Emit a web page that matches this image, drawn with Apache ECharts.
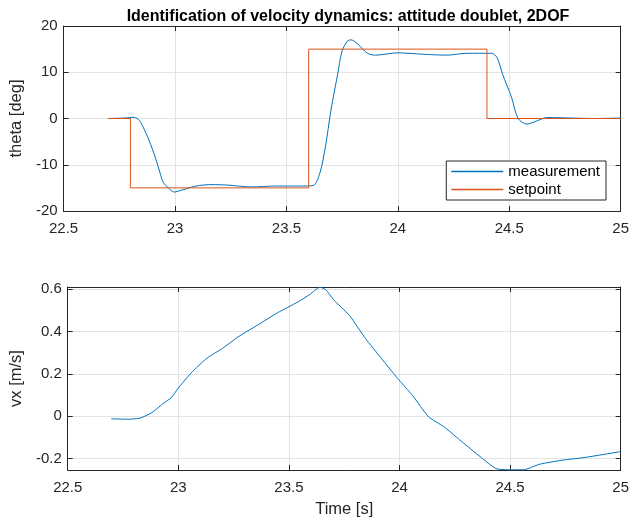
<!DOCTYPE html>
<html>
<head>
<meta charset="utf-8">
<title>Identification of velocity dynamics</title>
<script src="https://cdn.jsdelivr.net/npm/echarts@6/dist/echarts.min.js"></script>
</head>
<body style="margin:0px;">
<div id="main" style="width:632px;height:521px;"></div>
<script type="text/javascript">
// theta measurement [time, deg]
var thetaMeas = [
  [22.70, 0], [22.77, 0.1], [22.817, 0.25], [22.84, -0.4], [22.87, -3.2],
  [22.897, -6.4], [22.915, -8.9], [22.933, -11.8], [22.947, -13.8], [22.97, -15.0],
  [22.996, -15.9], [23.03, -15.5], [23.094, -14.6], [23.166, -14.3], [23.237, -14.4],
  [23.345, -14.8], [23.45, -14.6], [23.56, -14.6], [23.62, -14.5], [23.65, -11.8],
  [23.675, -6.1], [23.70, 1.8], [23.73, 9.6], [23.75, 14.6], [23.775, 16.8],
  [23.79, 17.0], [23.82, 16.1], [23.864, 14.1], [23.90, 13.7], [24.0, 14.2],
  [24.11, 13.9], [24.22, 13.7], [24.31, 14.1], [24.42, 14.1], [24.445, 13.2],
  [24.47, 9.6], [24.51, 4.6], [24.54, 0], [24.58, -1.2], [24.615, -0.7],
  [24.67, 0.2], [24.776, 0.1], [24.88, 0], [25.0, 0.1]
];
// setpoint steps [time, deg]
var thetaSet = [[22.7, 0], [22.8, -15], [23.6, 15], [24.4, 0], [25.0, 0]];
// vx [time, m/s]
var vx = [
  [22.697, -0.012], [22.77, -0.014], [22.826, -0.009], [22.88, 0.017], [22.93, 0.059],
  [22.97, 0.09], [22.996, 0.128], [23.058, 0.205], [23.13, 0.275], [23.20, 0.321],
  [23.27, 0.375], [23.36, 0.432], [23.45, 0.49], [23.54, 0.54], [23.595, 0.576],
  [23.64, 0.61], [23.667, 0.598], [23.70, 0.553], [23.774, 0.476], [23.846, 0.368],
  [23.917, 0.275], [23.989, 0.182], [24.06, 0.097], [24.132, -0.003], [24.20, -0.049],
  [24.29, -0.127], [24.38, -0.204], [24.436, -0.247], [24.49, -0.253], [24.56, -0.253],
  [24.633, -0.227], [24.74, -0.207], [24.83, -0.196], [24.92, -0.181], [25.0, -0.167]
];
var xTicks = [22.5, 25, 0.5];
var thetaTicks = [-20, 20, 10];
var vxRange = [-0.254, 0.611];

var ink = '#262626';
var font = 'Liberation Sans, Arial, sans-serif';
var nameStyle = { fontSize: 16.5, color: ink, fontFamily: font };

function xAx(grid, top, extra) {
  var a = {
    type: 'value', gridIndex: grid, min: xTicks[0], max: xTicks[1], interval: xTicks[2],
    position: top ? 'top' : 'bottom',
    axisLine: { show: true, onZero: false, lineStyle: { color: ink, width: 1 } },
    axisTick: { show: true, inside: true, length: 5, lineStyle: { color: ink } },
    axisLabel: { show: !top, color: ink, fontSize: 15, fontFamily: font, margin: 10 },
    splitLine: { show: !top, lineStyle: { color: '#e3e3e3' } }
  };
  for (var k in extra) a[k] = extra[k];
  return a;
}
function yAx(grid, right, mn, mx, iv, extra) {
  var a = {
    type: 'value', gridIndex: grid, min: mn, max: mx,
    position: right ? 'right' : 'left',
    axisLine: { show: true, onZero: false, lineStyle: { color: ink, width: 1 } },
    axisTick: { show: true, inside: true, length: 5, lineStyle: { color: ink } },
    axisLabel: { show: !right, color: ink, fontSize: 15, fontFamily: font, margin: 6,
                 showMinLabel: iv ? true : false, showMaxLabel: iv ? true : false },
    splitLine: { show: !right, lineStyle: { color: '#e3e3e3' } }
  };
  if (iv) a.interval = iv; else a.splitNumber = 5;
  for (var k in extra) a[k] = extra[k];
  return a;
}

var myChart = echarts.init(document.getElementById('main'));
myChart.setOption({
  animation: false,
  backgroundColor: '#fff',
  title: {
    text: 'Identification of velocity dynamics: attitude doublet, 2DOF',
    left: 343, top: 4, textAlign: 'center',
    textStyle: { fontSize: 16, fontWeight: 'bold', color: '#000', fontFamily: font }
  },
  legend: {
    data: ['measurement', 'setpoint'],
    orient: 'vertical', right: 26, top: 161,
    icon: 'rect', itemWidth: 52, itemHeight: 1.5, itemGap: 3,
    backgroundColor: '#fff', borderColor: ink, borderWidth: 1, borderRadius: 0,
    padding: [3, 6, 3, 5],
    textStyle: { fontSize: 15, color: '#000', fontFamily: font }
  },
  grid: [
    { left: 60, right: 9, top: 26, height: 185 },
    { left: 60, right: 9, top: 287, height: 183 }
  ],
  xAxis: [
    xAx(0, false, {}),
    xAx(0, true, {}),
    xAx(1, false, { name: 'Time [s]', nameLocation: 'middle', nameGap: 31, nameTextStyle: nameStyle }),
    xAx(1, true, {})
  ],
  yAxis: [
    yAx(0, false, thetaTicks[0], thetaTicks[1], thetaTicks[2],
      { name: 'theta [deg]', nameLocation: 'middle', nameGap: 32, nameTextStyle: nameStyle }),
    yAx(0, true, thetaTicks[0], thetaTicks[1], thetaTicks[2], {}),
    yAx(1, false, vxRange[0], vxRange[1], null,
      { name: 'vx [m/s]', nameLocation: 'middle', nameGap: 36, nameTextStyle: nameStyle }),
    yAx(1, true, vxRange[0], vxRange[1], null, {})
  ],
  series: [
    { name: 'measurement', type: 'line', xAxisIndex: 0, yAxisIndex: 0, data: thetaMeas,
      smooth: 0.3, symbol: 'none', lineStyle: { color: '#0072BD', width: 1 }, itemStyle: { color: '#0072BD' } },
    { name: 'setpoint', type: 'line', xAxisIndex: 0, yAxisIndex: 0, data: thetaSet,
      step: 'end', symbol: 'none', lineStyle: { color: '#D95319', width: 1 }, itemStyle: { color: '#D95319' } },
    { name: 'vx', type: 'line', xAxisIndex: 2, yAxisIndex: 2, data: vx,
      smooth: 0.2, symbol: 'none', lineStyle: { color: '#0072BD', width: 1 } }
  ]
});
</script>
</body>
</html>
